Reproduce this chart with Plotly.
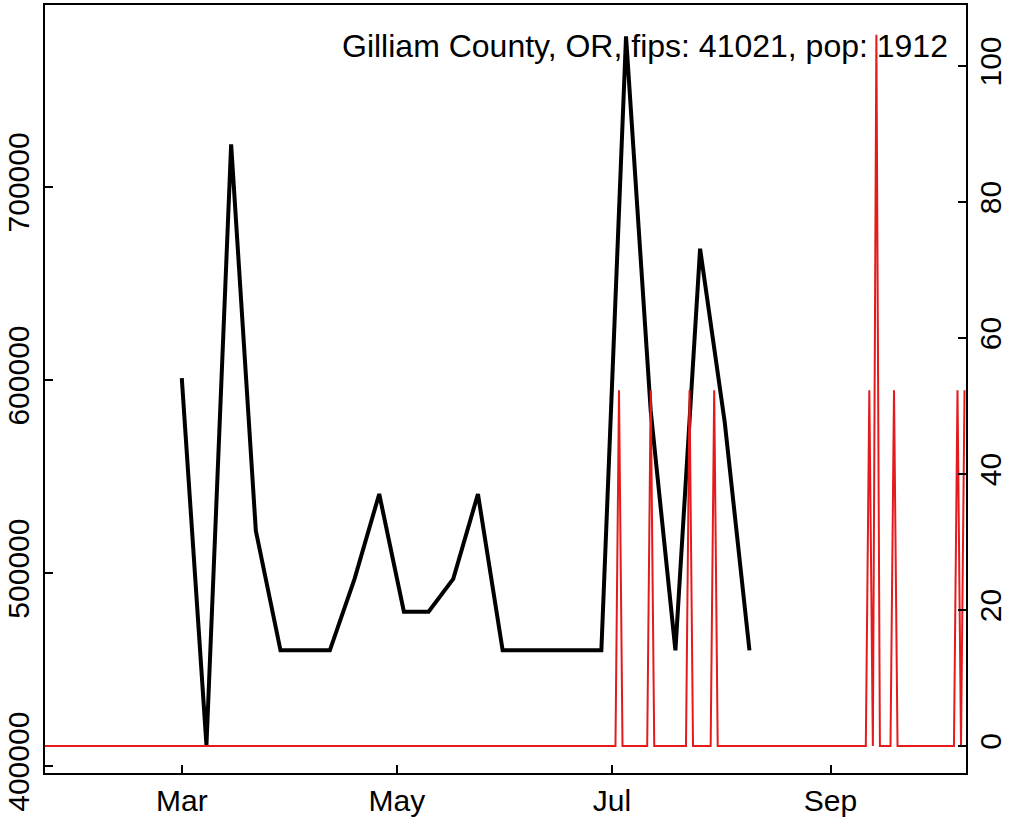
import plotly.graph_objects as go

# Weekly series (left axis)
week_dates = [
    "2020-03-01", "2020-03-08", "2020-03-15", "2020-03-22", "2020-03-29",
    "2020-04-05", "2020-04-12", "2020-04-19", "2020-04-26", "2020-05-03",
    "2020-05-10", "2020-05-17", "2020-05-24", "2020-05-31", "2020-06-07",
    "2020-06-14", "2020-06-21", "2020-06-28", "2020-07-05", "2020-07-12",
    "2020-07-19", "2020-07-26", "2020-08-02", "2020-08-09",
]
week_values = [
    601000, 411000, 722000, 522000, 460000,
    460000, 460000, 497000, 541000, 480000,
    480000, 497000, 541000, 460000, 460000,
    460000, 460000, 460000, 778000, 584000,
    460000, 668000, 578000, 460000,
]

# Daily new cases per 100k (right axis): days where the series changes
daily_dates = [
    "2020-01-22", "2020-07-02", "2020-07-03", "2020-07-04",
    "2020-07-11", "2020-07-12", "2020-07-13",
    "2020-07-22", "2020-07-23", "2020-07-24",
    "2020-07-29", "2020-07-30", "2020-07-31",
    "2020-09-11", "2020-09-12", "2020-09-13", "2020-09-14", "2020-09-15",
    "2020-09-18", "2020-09-19", "2020-09-20",
    "2020-10-06", "2020-10-07", "2020-10-08", "2020-10-09",
]
daily_values = [
    0, 0, 52.3, 0,
    0, 52.3, 0,
    0, 52.3, 0,
    0, 52.3, 0,
    0, 52.3, 0, 104.6, 0,
    0, 52.3, 0,
    0, 52.3, 0, 52.3,
]

x_tick_vals = ["2020-03-01", "2020-05-01", "2020-07-01", "2020-09-01"]
x_tick_text = ["Mar", "May", "Jul", "Sep"]
left_tick_vals = [400000, 500000, 600000, 700000]
left_tick_text = ["400000", "500000", "600000", "700000"]
right_tick_vals = [0, 20, 40, 60, 80, 100]
right_tick_text = ["0", "20", "40", "60", "80", "100"]

title_text = "Gilliam County, OR, fips: 41021, pop: 1912"

FONT = "Liberation Sans, Arial, sans-serif"
TICKFONT = dict(family=FONT, size=30, color="black")

fig = go.Figure()
fig.add_trace(go.Scatter(
    x=week_dates, y=week_values, mode="lines",
    line=dict(color="black", width=4), yaxis="y", hoverinfo="skip",
))
fig.add_trace(go.Scatter(
    x=daily_dates, y=daily_values, mode="lines",
    line=dict(color="#E41A1C", width=2), yaxis="y2", hoverinfo="skip",
))

axis_common = dict(
    showgrid=False, zeroline=False, showline=True, linewidth=2,
    linecolor="black", ticks="inside", ticklen=8, tickwidth=2,
    tickcolor="black", tickfont=TICKFONT, automargin=False,
)

fig.update_layout(
    width=1010, height=822,
    margin=dict(l=45, r=44, t=5, b=49),
    paper_bgcolor="white", plot_bgcolor="white",
    showlegend=False,
    xaxis=dict(
        type="date",
        range=["2020-01-22 05:00", "2020-10-09 10:00"],
        tickmode="array", tickvals=x_tick_vals, ticktext=x_tick_text,
        mirror=True, ticklabelstandoff=0, **axis_common,
    ),
    yaxis=dict(
        range=[396500, 794200],
        tickmode="array", tickvals=left_tick_vals, ticktext=left_tick_text,
        tickangle=-90, side="left", ticklabelstandoff=2, **axis_common,
    ),
    yaxis2=dict(
        range=[-3.97, 108.97], overlaying="y", side="right",
        tickmode="array", tickvals=right_tick_vals, ticktext=right_tick_text,
        tickangle=-90, ticklabelstandoff=-3, **axis_common,
    ),
    annotations=[dict(
        text=title_text, xref="paper", yref="paper",
        x=0.983, y=0.947, xanchor="right", yanchor="middle",
        showarrow=False, font=dict(family=FONT, size=32, color="black"),
    )],
)

fig.write_html(
    "out.html",
    config={"displayModeBar": False},
    post_script="document.body.style.margin='0';document.body.style.overflow='hidden';",
)
